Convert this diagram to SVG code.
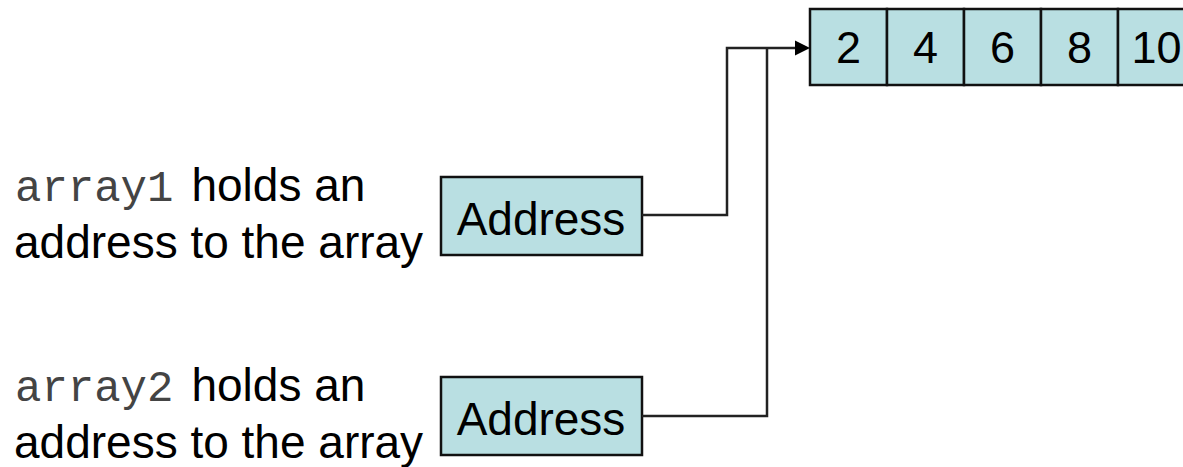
<svg xmlns="http://www.w3.org/2000/svg" width="1183" height="467" viewBox="0 0 1183 467">
  <style>
    .box { fill: #b9dfe2; stroke: #111; stroke-width: 2.5; }
    .sans { font-family: "Liberation Sans", Arial, sans-serif; fill: #000; }
    .mono { font-family: "Liberation Mono", "Courier New", monospace; fill: #444; font-size: 44px; font-weight: 300; }
    .lbl { font-size: 46px; }
    .num { font-size: 45px; text-anchor: middle; }
    .wire { fill: none; stroke: #222; stroke-width: 2.5; }
    .head { fill: #000; }
  </style>

  <!-- array of five integers -->
  <g id="array">
    <rect class="box" x="810" y="9" width="77" height="76"/>
    <rect class="box" x="887" y="9" width="77" height="76"/>
    <rect class="box" x="964" y="9" width="77" height="76"/>
    <rect class="box" x="1041" y="9" width="77" height="76"/>
    <rect class="box" x="1118" y="9" width="77" height="76"/>
    <text class="sans num" x="848.5" y="63">2</text>
    <text class="sans num" x="925.5" y="63">4</text>
    <text class="sans num" x="1002.5" y="63">6</text>
    <text class="sans num" x="1079.5" y="63">8</text>
    <text class="sans num" x="1156.5" y="63">10</text>
  </g>

  <!-- first reference variable -->
  <g id="array1">
    <text x="15" y="201"><tspan class="mono">array1</tspan><tspan class="sans lbl" dx="18">holds an</tspan></text>
    <text class="sans lbl" x="14" y="258">address to the array</text>
    <rect class="box" x="441" y="177" width="201" height="78"/>
    <text class="sans lbl" x="541" y="235" text-anchor="middle">Address</text>
  </g>

  <!-- second reference variable -->
  <g id="array2">
    <text x="15" y="401"><tspan class="mono">array2</tspan><tspan class="sans lbl" dx="18">holds an</tspan></text>
    <text class="sans lbl" x="14" y="458">address to the array</text>
    <rect class="box" x="441" y="377" width="201" height="78"/>
    <text class="sans lbl" x="541" y="435" text-anchor="middle">Address</text>
  </g>

  <!-- both addresses point at the same array -->
  <g id="connectors">
    <path class="wire" d="M642,215 H727 V48 H797"/>
    <path class="wire" d="M642,416 H767 V48"/>
    <polygon class="head" points="795,40.5 810,48 795,55.5"/>
  </g>
</svg>
